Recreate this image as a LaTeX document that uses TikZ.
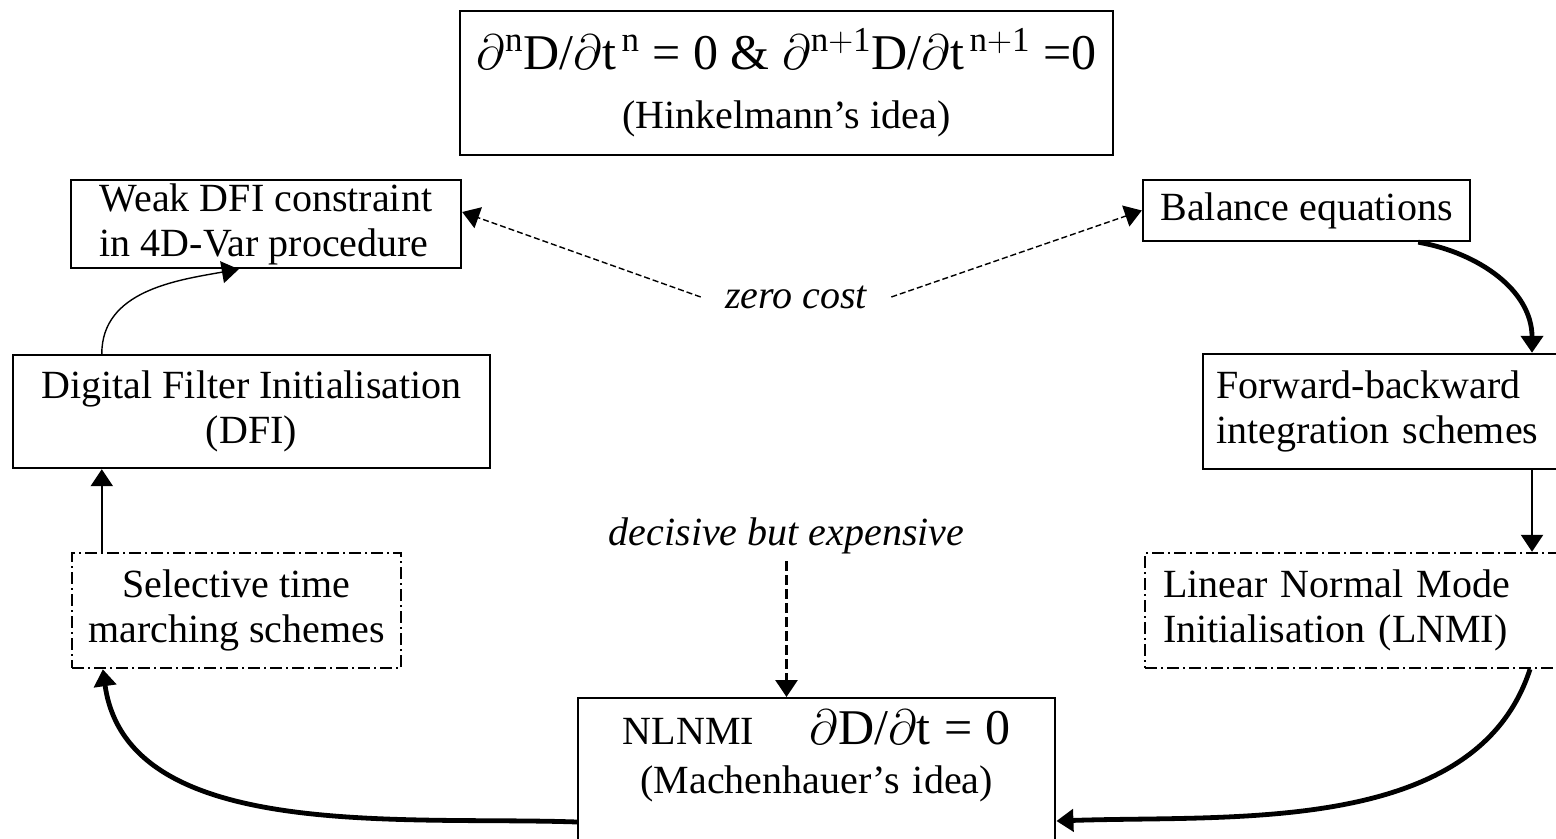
\documentclass[tikz,border=0pt]{standalone}
\usepackage{fontspec}
\setmainfont{Liberation Serif}
\usetikzlibrary{arrows.meta}
\definecolor{cEdge}{RGB}{0,0,0}
\newcommand{\eqsize}{\fontsize{25}{28}\selectfont}
\tikzset{
  box/.style={
    rectangle, draw=cEdge, line width=1.2pt,
    align=center, text=cEdge, font=\fontsize{20}{22.5}\selectfont,
    inner sep=0pt,
  },
  dbox/.style={box, dash pattern=on 6pt off 2pt on 1pt off 2pt},
  lbl/.style={font=\fontsize{20}{22.5}\selectfont\itshape, text=cEdge, inner xsep=12pt},
  arr/.style={-{Triangle[length=8.5pt,width=11pt]}, line width=1.2pt, draw=cEdge},
  thickarr/.style={arr, line width=2.4pt},
  thinarr/.style={arr, line width=0.7pt},
  costarr/.style={thinarr, dash pattern=on 3pt off 1.5pt},
  decarr/.style={arr, line width=1.4pt, dash pattern=on 5pt off 2pt},
}

\begin{document}
\begin{tikzpicture}[x=0.5pt, y=-0.5pt]
\clip (0,0) rectangle (1556,839);

\node[box, minimum width=326.5pt, minimum height=72pt] (hink) at (786.5,83)
  {{\eqsize $\partial^{\mathrm{n}}$D/$\partial$t$^{\,\mathrm{n}}$ = 0 \& $\partial^{\mathrm{n+1}}$D/$\partial$t$^{\,\mathrm{n+1}}$ =0}\\[7pt]
   (Hinkelmann's idea)};

\node[box, align=left, minimum width=195pt, minimum height=44pt] (weak) at (266,224)
  {Weak DFI constraint\\in 4D-Var procedure};

\node[box, minimum width=163.5pt, minimum height=30.5pt] (bal) at (1306.5,210.5)
  {Balance equations};

\node[lbl] (zc) at (796,297) {zero cost};

\node[box, minimum width=238.5pt, minimum height=56.5pt] (dfi) at (251.5,411.5)
  {Digital Filter Initialisation\\(DFI)};

\node[box, anchor=west, align=left, text width=200pt, inner xsep=6.5pt, minimum height=57.5pt] (fb) at (1202,411.5)
  {Forward-backward\\integration schemes};

\node[lbl, inner xsep=0pt] (dec) at (786.5,536) {decisive but expensive};

\node[dbox, minimum width=164.5pt, minimum height=57.5pt] (sel) at (236.5,610.5)
  {Selective time\\marching schemes};

\node[dbox, anchor=west, align=left, text width=200pt, inner xsep=9pt, minimum height=57.5pt] (lnmi) at (1144,610.5)
  {Linear Normal Mode\\Initialisation (LNMI)};

\node[box, anchor=north west, text width=220pt, inner xsep=9.25pt, inner ysep=6pt, text depth=55pt] (nlnmi) at (577,697)
  {NLNMI\hspace{28pt}{\eqsize $\partial$D/$\partial$t = 0}\\[2pt]
   (Machenhauer's idea)};

% left branch
\draw[arr] ([xshift=15.5pt]sel.north west) -- ([xshift=45pt]dfi.south west);
\draw[thinarr] ([xshift=45pt]dfi.north west) to[out=90, in=190] ([xshift=84.5pt]weak.south west);

% zero cost
\draw[costarr] (zc.west) -- ([yshift=6pt]weak.east);
\draw[costarr] (zc.east) -- (bal.west);

% right branch
\draw[thickarr] ([xshift=-26.5pt]bal.south east) to[out=-10, in=90] ([xshift=165pt]fb.north west);
\draw[arr] ([xshift=165pt]fb.south west) -- ([xshift=194pt]lnmi.north west);
\draw[thickarr] ([xshift=193pt]lnmi.south west) to[out=-108, in=2, looseness=0.9] ([yshift=-62pt]nlnmi.north east);

% bottom
\draw[thickarr] ([yshift=-62.5pt]nlnmi.north west) to[out=178, in=-82, looseness=0.9] ([xshift=16pt]sel.south west);
\draw[decarr] (dec.south) -- (dec.south |- nlnmi.north);

\end{tikzpicture}
\end{document}
